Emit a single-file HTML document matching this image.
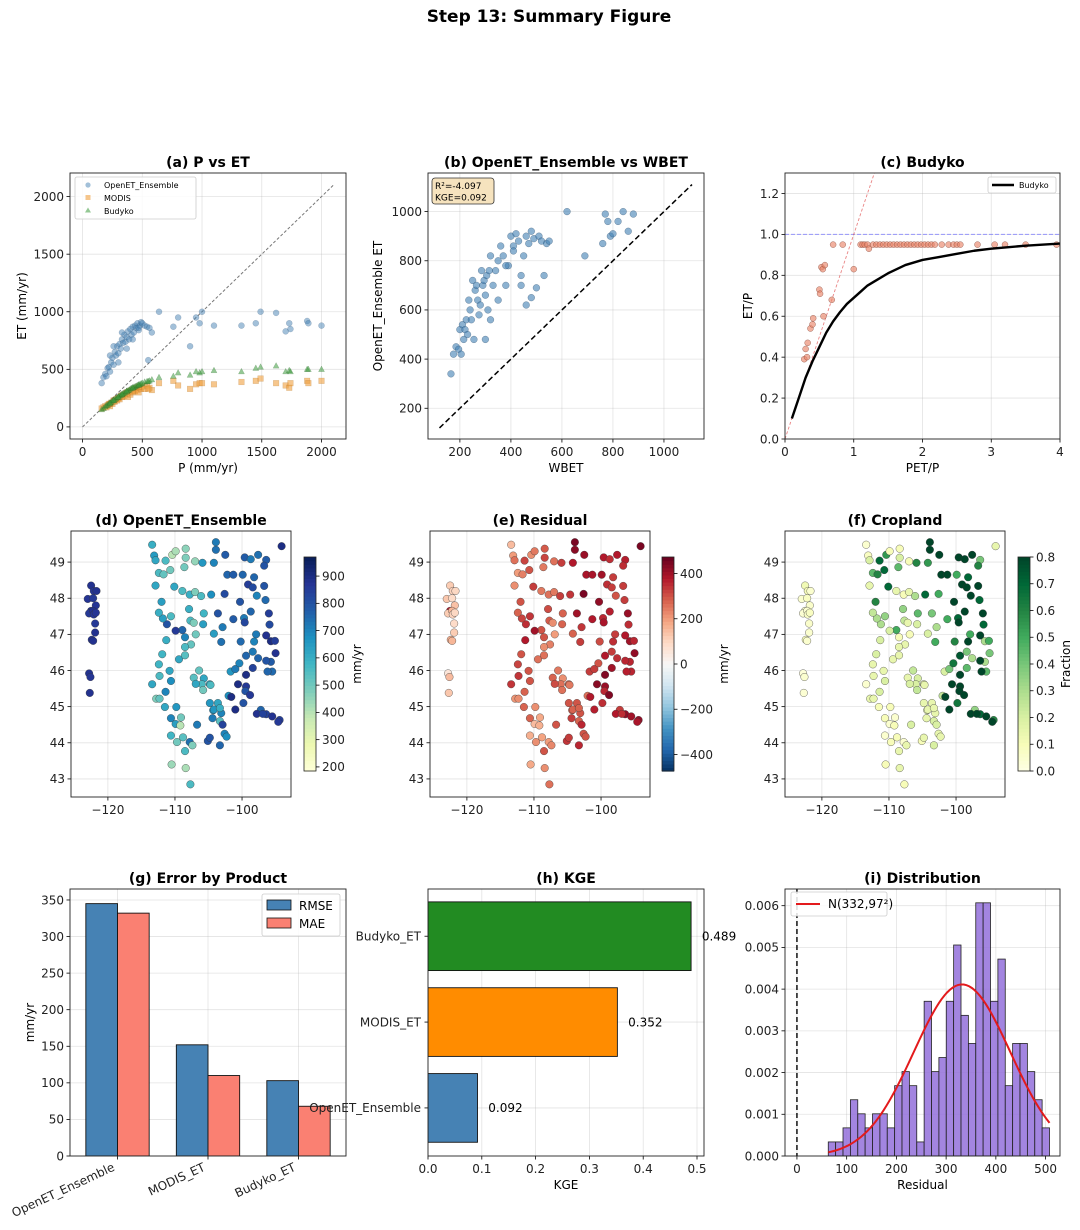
<!DOCTYPE html>
<html><head><meta charset="utf-8"><title>Step 13: Summary Figure</title>
<style>
html,body{margin:0;padding:0;background:#fff;}
svg{display:block;font-family:"DejaVu Sans","Liberation Sans",sans-serif;}
</style></head>
<body>
<svg id="fig" width="1080" height="1230" viewBox="0 0 1080 1230" xmlns="http://www.w3.org/2000/svg">
<rect x="0" y="0" width="1080" height="1230" fill="#fff"/>
<text x="549" y="22" text-anchor="middle" font-size="17" font-weight="bold" fill="#000">Step 13: Summary Figure</text>
</svg>
<script>
// ---------- Panel (a) data ----------
const aP = [160,175,190,200,210,220,230,240,250,260,270,280,290,300,310,320,330,340,350,360,370,380,390,400,410,420,430,440,450,460,470,480,490,500,520,540,560,580,230,260,300,330,370,420,470,550,640,760,800,900,950,980,1000,1100,1330,1450,1490,1620,1700,1730,1740,1880,1890,2000];
const aOpen = [380,430,460,440,510,520,480,560,600,540,650,620,700,640,720,680,760,730,800,740,780,830,760,850,800,870,820,880,860,900,840,880,910,900,880,870,860,820,620,700,560,820,680,760,860,580,1000,870,950,700,950,900,1000,880,880,900,1000,990,830,900,850,920,900,880];
const aModis = [160,170,180,170,190,200,180,210,200,230,220,240,230,250,240,270,260,280,270,290,300,260,310,280,320,300,330,310,340,320,300,340,330,350,330,360,340,320,200,220,250,260,290,310,350,330,380,400,360,330,370,380,380,370,390,400,420,380,360,340,380,400,380,400];
const aBudyko = [150,160,175,185,190,200,210,215,225,230,240,245,255,260,270,275,280,290,295,300,310,315,320,330,335,340,345,350,355,360,365,370,375,380,390,395,400,410,205,230,260,285,310,340,365,395,430,440,470,450,480,470,480,490,480,510,520,530,480,490,480,500,500,500];
// ---------- Panel (b) data ----------
const bWBET = [165,175,185,195,200,205,210,215,220,225,230,235,240,245,250,255,260,265,270,275,280,285,290,295,300,305,310,315,320,330,340,350,360,370,380,390,400,410,420,430,440,450,460,470,480,490,500,510,520,530,540,550,300,320,350,380,410,440,460,480,620,690,760,770,780,790,800,820,840,860,880];
const bOpen = [340,420,450,440,520,420,540,480,520,560,500,640,600,560,720,480,680,700,640,580,620,760,700,720,660,740,600,760,820,700,760,800,860,820,700,780,900,860,910,880,700,820,900,870,920,890,690,900,880,740,870,880,480,560,640,780,840,740,620,650,1000,820,870,990,960,900,910,960,1000,920,990];
const bStats = ["R\u00b2=-4.097","KGE=0.092"];
// ---------- Panel (c) data ----------
const cPETP = [0.28,0.3,0.32,0.33,0.37,0.4,0.41,0.5,0.51,0.53,0.55,0.56,0.58,0.68,0.7,0.84,1.0,1.1,1.13,1.16,1.2,1.22,1.28,1.33,1.38,1.43,1.48,1.53,1.58,1.63,1.68,1.73,1.78,1.83,1.88,1.93,1.98,2.03,2.08,2.13,2.18,2.28,2.38,2.45,2.5,2.55,2.8,3.05,3.2,3.5,3.95];
const cETP = [0.39,0.44,0.40,0.47,0.54,0.56,0.59,0.73,0.71,0.84,0.83,0.60,0.85,0.68,0.95,0.95,0.83,0.95,0.95,0.95,0.95,0.93,0.95,0.95,0.95,0.95,0.95,0.95,0.95,0.95,0.95,0.95,0.95,0.95,0.95,0.95,0.95,0.95,0.95,0.95,0.95,0.95,0.95,0.95,0.95,0.95,0.95,0.95,0.95,0.95,0.95];
const budykoX = [0.1,0.15,0.2,0.25,0.3,0.4,0.5,0.6,0.7,0.8,0.9,1.0,1.1,1.2,1.3,1.5,1.75,2.0,2.25,2.5,2.75,3.0,3.5,4.0];
const budykoY = [0.1,0.15,0.2,0.25,0.3,0.38,0.45,0.52,0.575,0.62,0.66,0.69,0.72,0.75,0.77,0.81,0.85,0.875,0.89,0.905,0.92,0.93,0.945,0.955];
// ---------- Station map data (d,e,f) ----------
const stLon = [-123.0,-122.5,-122.1,-121.7,-122.2,-121.8,-122.5,-122.8,-122.2,-122.1,-121.9,-121.9,-122.4,-122.2,-122.8,-122.6,-122.7,-121.8,
-113.4,-113.1,-112.9,-112.4,-112.9,-111.7,-111.4,-110.7,-110.4,-109.9,-108.4,-108.4,-108.6,-110.1,-108.9,-107.8,-107.0,-106.1,-107.0,-105.9,-104.6,-104.2,-103.9,-103.9,-102.5,-102.6,-102.2,-101.3,-99.9,-99.6,-98.7,-97.6,-96.4,-96.7,-94.1,-98.2,-99.1,-98.4,-96.7,-97.8,-96.5,-100.3,-99.7,-98.7,-99.6,-101.3,-103.6,-102.9,-96.0,-95.9,-97.9,-96.4,-95.7,-95.1,-98.2,-100.2,-103.1,-104.2,-105.8,-105.7,-107.9,-107.7,-107.2,-108.9,-109.9,-108.5,-106.9,-107.6,-108.5,-111.2,-111.3,-110.6,-111.8,-112.4,-112.0,-111.9,-112.4,-110.8,-112.3,-113.4,-112.8,-112.3,-111.4,-111.5,-110.6,-110.6,-109.8,-109.9,-109.1,-109.2,-110.6,-108.8,-107.8,-107.4,-109.7,-108.5,-110.5,-108.4,-107.7,-109.4,-108.5,-106.4,-105.7,-104.8,-104.7,-106.0,-107.2,-106.9,-105.8,-104.8,-104.3,-103.3,-103.1,-104.2,-103.6,-102.0,-103.3,-102.9,-104.4,-106.7,-105.1,-104.8,-103.3,-102.6,-102.3,-101.7,-101.0,-100.4,-99.4,-98.4,-97.6,-95.7,-95.5,-96.2,-96.4,-95.0,-98.4,-99.4,-99.4,-100.6,-99.5,-98.8,-99.8,-97.2,-96.4,-95.5,-94.4,-94.6,-97.8,-96.9,-101.0,-101.6];
const stLat = [47.98,48.35,48.2,48.2,48.0,47.8,47.65,47.58,47.65,47.55,47.3,47.05,46.85,46.82,45.92,45.82,45.38,47.6,
49.48,49.18,49.05,48.7,48.35,48.66,49.04,48.78,49.2,49.3,49.37,49.12,48.86,48.32,48.2,48.1,48.17,48.06,49.02,48.98,48.1,48.98,49.34,49.55,49.2,48.12,48.65,48.65,48.65,49.13,49.08,49.2,49.06,48.9,49.44,48.58,48.38,48.3,48.34,48.07,47.95,47.9,47.45,47.63,47.33,47.42,47.58,47.2,47.58,47.27,47.0,46.97,46.81,46.82,46.8,46.8,46.79,47.02,47.28,47.58,47.7,47.38,47.32,47.12,47.1,46.92,47.0,46.72,46.65,47.28,46.84,47.5,47.44,47.6,47.9,46.45,46.17,45.99,45.85,45.62,45.22,45.22,45.41,44.99,45.71,44.68,44.99,44.52,44.7,44.48,44.2,44.15,44.02,43.93,44.02,43.77,43.4,43.3,42.85,46.31,46.42,46.0,45.78,45.62,45.6,45.62,45.8,45.63,45.46,45.1,44.9,44.6,44.82,44.92,45.1,45.3,44.96,44.5,44.68,44.5,44.05,44.14,43.93,44.25,44.17,45.97,46.04,46.2,46.41,46.52,46.34,46.24,45.97,45.97,46.27,46.48,46.07,45.88,45.56,45.62,45.43,45.32,45.1,44.91,44.79,44.73,44.63,44.58,44.8,44.8,44.92,45.27,45.1,45.42,46.8,46.94];
const stET = [870,880,870,880,860,870,880,860,880,870,860,880,870,880,880,870,880,870,
600,650,620,560,620,520,560,500,400,420,460,480,500,620,560,600,480,560,450,660,680,700,740,720,780,820,760,780,760,780,720,740,780,800,900,760,850,820,800,700,750,800,720,760,830,780,800,720,850,820,720,880,900,850,700,750,740,640,640,580,600,560,480,760,860,700,500,520,560,800,600,560,640,600,640,580,580,620,560,620,480,520,700,620,680,700,660,640,500,400,580,540,740,480,500,560,440,420,560,620,540,520,620,620,560,560,540,620,500,660,660,540,700,660,620,680,600,840,720,720,800,800,760,700,680,660,720,700,760,720,760,780,750,760,800,880,840,900,860,900,800,860,800,760,840,880,850,860,880,840,900,900,780,820,780,740];
const stRes = [130,120,110,100,90,140,380,120,160,110,90,120,170,160,60,150,130,100,
150,200,260,200,220,240,320,300,220,250,290,320,250,330,250,260,250,330,260,330,340,380,430,450,410,450,390,390,400,380,350,380,370,350,450,330,350,330,330,300,330,420,360,370,390,380,400,340,410,350,330,380,400,360,350,310,330,280,280,280,310,290,220,300,400,300,200,240,220,350,380,340,320,280,300,300,320,300,340,340,210,220,280,280,300,280,220,150,180,170,170,190,200,230,220,300,180,220,260,260,260,250,220,280,250,260,280,310,260,300,290,280,300,280,300,260,280,360,330,300,340,330,360,300,300,330,330,300,380,330,350,360,360,370,360,420,400,440,410,430,360,440,350,330,420,400,420,390,380,350,370,380,380,360,340,330];
const stCrop = [0.05,0.12,0.1,0.05,0.08,0.06,0.05,0.04,0.05,0.07,0.06,0.05,0.1,0.05,0.03,0.05,0.04,0.08,
0.05,0.08,0.2,0.45,0.15,0.6,0.7,0.7,0.55,0.1,0.1,0.2,0.45,0.7,0.15,0.1,0.15,0.3,0.1,0.6,0.7,0.55,0.8,0.8,0.8,0.5,0.8,0.8,0.5,0.8,0.8,0.8,0.4,0.6,0.15,0.7,0.8,0.8,0.8,0.8,0.7,0.8,0.7,0.8,0.8,0.5,0.4,0.3,0.8,0.7,0.5,0.8,0.3,0.5,0.8,0.6,0.5,0.2,0.2,0.45,0.35,0.25,0.15,0.5,0.2,0.1,0.1,0.15,0.15,0.3,0.2,0.35,0.3,0.25,0.6,0.2,0.15,0.15,0.15,0.05,0.15,0.15,0.2,0.1,0.2,0.1,0.1,0.05,0.05,0.1,0.05,0.1,0.05,0.15,0.1,0.15,0.1,0.15,0.1,0.15,0.15,0.25,0.2,0.15,0.15,0.2,0.15,0.2,0.25,0.15,0.15,0.2,0.15,0.15,0.15,0.25,0.15,0.2,0.15,0.2,0.1,0.15,0.2,0.15,0.15,0.2,0.4,0.65,0.75,0.4,0.3,0.3,0.45,0.8,0.8,0.4,0.45,0.8,0.8,0.8,0.8,0.8,0.65,0.35,0.7,0.8,0.6,0.8,0.8,0.8,0.8,0.8,0.6,0.8,0.5,0.4];
// ---------- Panel (g) data ----------
const gProducts = ["OpenET_Ensemble","MODIS_ET","Budyko_ET"];
const gRMSE = [345,152,103];
const gMAE = [332,110,68];
// ---------- Panel (h) data ----------
const hProducts = ["OpenET_Ensemble","MODIS_ET","Budyko_ET"];
const hKGE = [0.092,0.352,0.489];
const hColors = ["#4682b4","#ff8c00","#228b22"];
// ---------- Panel (i) data ----------
const iCounts = [1,1,2,4,3,2,3,3,2,5,6,5,1,11,6,7,11,15,10,8,18,18,11,14,5,8,8,6,4,2];
const iBinStart = [63];
const iBinWidth = [14.83];
const iFit = [332,97];

const NS='http://www.w3.org/2000/svg';
const svg=document.getElementById('fig');
function el(tag,attrs,parent,txt){const e=document.createElementNS(NS,tag);for(const k in attrs)e.setAttribute(k,attrs[k]);if(txt!==undefined)e.textContent=txt;(parent||svg).appendChild(e);return e;}
let clipN=0;
function makeAxes(name,x0,y0,x1,y1,xl,yl){
  const g=el('g',{});
  
  
  const sx=v=>x0+(v-xl[0])/(xl[1]-xl[0])*(x1-x0);
  const sy=v=>y1-(v-yl[0])/(yl[1]-yl[0])*(y1-y0);
  const id='clip'+(clipN++);
  const cp=el('clipPath',{id:id},g);el('rect',{x:x0,y:y0,width:x1-x0,height:y1-y0},cp);
  const grid=el('g',{},g);
  const plot=el('g',{'clip-path':'url(#'+id+')'},g);
  return {g,grid,plot,sx,sy,x0,y0,x1,y1};
}
function xticks(ax,vals,labels,opt){
  opt=opt||{};
  vals.forEach((v,i)=>{const x=ax.sx(v);
    if(!opt.nogrid)el('line',{x1:x,x2:x,y1:ax.y0,y2:ax.y1,stroke:'#b0b0b0','stroke-opacity':0.35,'stroke-width':0.8},ax.grid);
    el('line',{x1:x,x2:x,y1:ax.y1,y2:ax.y1+3.5,stroke:'#000','stroke-width':0.8},ax.g);
    const t=el('text',{x:x,y:ax.y1+17,'text-anchor':'middle','font-size':12,fill:'#222'},ax.g,labels[i]);
    
    
  });
}
function yticks(ax,vals,labels){
  vals.forEach((v,i)=>{const y=ax.sy(v);
    el('line',{x1:ax.x0,x2:ax.x1,y1:y,y2:y,stroke:'#b0b0b0','stroke-opacity':0.35,'stroke-width':0.8},ax.grid);
    el('line',{x1:ax.x0-3.5,x2:ax.x0,y1:y,y2:y,stroke:'#000','stroke-width':0.8},ax.g);
    const t=el('text',{x:ax.x0-6,y:y+4.3,'text-anchor':'end','font-size':12,fill:'#222'},ax.g,labels[i]);
    
    
  });
}
function frame(ax){el('rect',{x:ax.x0,y:ax.y0,width:ax.x1-ax.x0,height:ax.y1-ax.y0,fill:'none',stroke:'#222','stroke-width':0.9},ax.g);}
function title(ax,txt){const t=el('text',{x:(ax.x0+ax.x1)/2,y:ax.y0-6,'text-anchor':'middle','font-size':14,'font-weight':'bold',fill:'#000'},ax.g,txt);
  
  }
function xlabel(ax,txt,dy){const t=el('text',{x:(ax.x0+ax.x1)/2,y:ax.y1+(dy||33),'text-anchor':'middle','font-size':12,fill:'#000'},ax.g,txt);
  
  }
function ylabel(ax,txt,x){const cy=(ax.y0+ax.y1)/2;const t=el('text',{x:x,y:cy,'text-anchor':'middle','font-size':12,fill:'#000',transform:'rotate(-90 '+x+' '+cy+')'},ax.g,txt);
  
  }
function hex(h){return [parseInt(h.substr(1,2),16),parseInt(h.substr(3,2),16),parseInt(h.substr(5,2),16)];}
function cmap(stops){const c=stops.map(hex);return t=>{t=Math.max(0,Math.min(1,t));const p=t*(c.length-1);const i=Math.min(c.length-2,Math.floor(p));const f=p-i;
  return 'rgb('+[0,1,2].map(k=>Math.round(c[i][k]+(c[i+1][k]-c[i][k])*f)).join(',')+')';};}
const YlGnBu=cmap(['#ffffd9','#edf8b1','#c7e9b4','#7fcdbb','#41b6c4','#1d91c0','#225ea8','#253494','#081d58']);
const RdBu_r=cmap(['#053061','#2166ac','#4393c3','#92c5de','#d1e5f0','#f7f7f7','#fddbc7','#f4a582','#d6604d','#b2182b','#67001f']);
const YlGn=cmap(['#ffffe5','#f7fcb9','#d9f0a3','#addd8e','#78c679','#41ab5d','#238443','#006837','#004529']);

// ================= (a) P vs ET =================
(function(){
  const ax=makeAxes('panel-a-p-vs-et',70,173,346,439,[-105,2205],[-105,2205]);
  xticks(ax,[0,500,1000,1500,2000],['0','500','1000','1500','2000']);
  yticks(ax,[0,500,1000,1500,2000],['0','500','1000','1500','2000']);
  el('line',{x1:ax.sx(0),y1:ax.sy(0),x2:ax.sx(2100),y2:ax.sy(2100),stroke:'#777','stroke-width':1,'stroke-dasharray':'3,2'},ax.plot);
  aP.forEach((p,i)=>{const c=el('circle',{cx:ax.sx(p),cy:ax.sy(aOpen[i]),r:3,fill:'#4682b4','fill-opacity':0.5,stroke:'#2a4a6a','stroke-opacity':0.3,'stroke-width':0.5},ax.plot);
    
    });
  aP.forEach((p,i)=>{const x=ax.sx(p),y=ax.sy(aModis[i]);const r=el('rect',{x:x-2.8,y:y-2.8,width:5.6,height:5.6,fill:'#f0a040','fill-opacity':0.6,stroke:'#a06010','stroke-opacity':0.3,'stroke-width':0.5},ax.plot);
    
    });
  aP.forEach((p,i)=>{const x=ax.sx(p),y=ax.sy(aBudyko[i]);const t=el('polygon',{points:(x)+','+(y-3.3)+' '+(x-3)+','+(y+2.3)+' '+(x+3)+','+(y+2.3),fill:'#3d9a3d','fill-opacity':0.55,stroke:'#1e5a1e','stroke-opacity':0.3,'stroke-width':0.5},ax.plot);
    
    });
  frame(ax);title(ax,'(a) P vs ET');xlabel(ax,'P (mm/yr)');ylabel(ax,'ET (mm/yr)',26);
  const lg=el('g',{},ax.g);
  
  
  el('rect',{x:75,y:177,width:121,height:42,rx:2,fill:'#fff','fill-opacity':0.85,stroke:'#ccc','stroke-width':0.8},lg);
  el('circle',{cx:88,cy:185,r:2.6,fill:'#4682b4','fill-opacity':0.5},lg);
  el('rect',{x:85.5,y:195,width:5,height:5,fill:'#f0a040','fill-opacity':0.6},lg);
  el('polygon',{points:'88,207.5 85,212.5 91,212.5',fill:'#3d9a3d','fill-opacity':0.55},lg);
  el('text',{x:104,y:188,'font-size':8,fill:'#000'},lg,'OpenET_Ensemble');
  el('text',{x:104,y:201,'font-size':8,fill:'#000'},lg,'MODIS');
  el('text',{x:104,y:214,'font-size':8,fill:'#000'},lg,'Budyko');
})();

// ================= (b) OpenET vs WBET =================
(function(){
  const ax=makeAxes('panel-b-openet-vs-wbet',428,173,704,439,[75,1157],[75,1157]);
  xticks(ax,[200,400,600,800,1000],['200','400','600','800','1000']);
  yticks(ax,[200,400,600,800,1000],['200','400','600','800','1000']);
  bWBET.forEach((w,i)=>{if(bOpen[i]===undefined)return;const c=el('circle',{cx:ax.sx(w),cy:ax.sy(bOpen[i]),r:3.4,fill:'#4682b4','fill-opacity':0.62,stroke:'#1f3f5f','stroke-opacity':0.5,'stroke-width':0.5},ax.plot);
    
    });
  el('line',{x1:ax.sx(120),y1:ax.sy(120),x2:ax.sx(1110),y2:ax.sy(1110),stroke:'#000','stroke-width':1.5,'stroke-dasharray':'5.5,3'},ax.plot);
  frame(ax);title(ax,'(b) OpenET_Ensemble vs WBET');xlabel(ax,'WBET');ylabel(ax,'OpenET_Ensemble ET',382);
  const sb=el('g',{},ax.g);
  
  
  el('rect',{x:432,y:178,width:62,height:26,rx:3,fill:'#f5deb3','fill-opacity':0.85,stroke:'#333','stroke-width':0.8},sb);
  bStats.forEach((s,i)=>el('text',{x:435,y:189+i*11.5,'font-size':9,fill:'#000'},sb,s));
})();

// ================= (c) Budyko =================
(function(){
  const ax=makeAxes('panel-c-budyko',785,173,1060,439,[0,4],[0,1.3]);
  xticks(ax,[0,1,2,3,4],['0','1','2','3','4']);
  yticks(ax,[0,0.2,0.4,0.6,0.8,1.0,1.2],['0.0','0.2','0.4','0.6','0.8','1.0','1.2']);
  el('line',{x1:ax.sx(0),y1:ax.sy(1),x2:ax.sx(4),y2:ax.sy(1),stroke:'#7070ff','stroke-opacity':0.7,'stroke-width':1,'stroke-dasharray':'4,2'},ax.plot);
  el('line',{x1:ax.sx(0),y1:ax.sy(0),x2:ax.sx(1.3),y2:ax.sy(1.3),stroke:'#e05050','stroke-opacity':0.7,'stroke-width':0.9,'stroke-dasharray':'3,2'},ax.plot);
  cPETP.forEach((x,i)=>{const c=el('circle',{cx:ax.sx(x),cy:ax.sy(cETP[i]),r:3,fill:'#e9866a','fill-opacity':0.65,stroke:'#6a2a1a','stroke-opacity':0.6,'stroke-width':0.5},ax.plot);
    
    });
  const pts=budykoX.map((x,i)=>ax.sx(x)+','+ax.sy(budykoY[i])).join(' ');
  const bl=el('polyline',{points:pts,fill:'none',stroke:'#000','stroke-width':2.4,'stroke-linejoin':'round'},ax.plot);
  
  
  frame(ax);title(ax,'(c) Budyko');xlabel(ax,'PET/P');ylabel(ax,'ET/P',752);
  const lg=el('g',{},ax.g);
  
  
  el('rect',{x:988,y:177,width:68,height:16,rx:2,fill:'#fff','fill-opacity':0.85,stroke:'#ccc','stroke-width':0.8},lg);
  el('line',{x1:992,x2:1014,y1:185,y2:185,stroke:'#000','stroke-width':2.4},lg);
  el('text',{x:1019,y:188,'font-size':8,fill:'#000'},lg,'Budyko');
})();

// ================= Maps (d,e,f) =================
function mapPanel(name,x0,x1,ttl,vals,cm,vmin,vmax,cbx,cticks,clabels,clabel,clx){
  const ax=makeAxes(name,x0,531,x1,797,[-125.5,-92.7],[42.5,49.86]);
  xticks(ax,[-120,-110,-100],['\u2212120','\u2212110','\u2212100']);
  yticks(ax,[43,44,45,46,47,48,49],['43','44','45','46','47','48','49']);
  stLon.forEach((lo,i)=>{const c=el('circle',{cx:ax.sx(lo),cy:ax.sy(stLat[i]),r:3.8,fill:cm((vals[i]-vmin)/(vmax-vmin)),stroke:'#333','stroke-opacity':0.7,'stroke-width':0.5},ax.plot);
    
    });
  frame(ax);title(ax,ttl);
  const cb=el('g',{});
  
  
  const y0=557,y1=771,w=12,n=60;
  for(let k=0;k<n;k++){el('rect',{x:cbx,y:y1-(k+1)*(y1-y0)/n,width:w,height:(y1-y0)/n+0.6,fill:cm((k+0.5)/n)},cb);}
  el('rect',{x:cbx,y:y0,width:w,height:y1-y0,fill:'none',stroke:'#222','stroke-width':0.8},cb);
  cticks.forEach((v,i)=>{const y=y1-(v-vmin)/(vmax-vmin)*(y1-y0);
    el('line',{x1:cbx+w,x2:cbx+w+3.5,y1:y,y2:y,stroke:'#000','stroke-width':0.8},cb);
    el('text',{x:cbx+w+6,y:y+4.3,'font-size':12,fill:'#222'},cb,clabels[i]);});
  const cy=(y0+y1)/2;
  el('text',{x:clx,y:cy,'text-anchor':'middle','font-size':12,fill:'#000',transform:'rotate(-90 '+clx+' '+cy+')'},cb,clabel);
}
mapPanel('panel-d-openet-map',71,291,'(d) OpenET_Ensemble',stET,YlGnBu,185,970,304,[200,300,400,500,600,700,800,900],['200','300','400','500','600','700','800','900'],'mm/yr',361);
mapPanel('panel-e-residual-map',430,650,'(e) Residual',stRes,RdBu_r,-473,473,662,[-400,-200,0,200,400],['\u2212400','\u2212200','0','200','400'],'mm/yr',728);
mapPanel('panel-f-cropland-map',785,1005,'(f) Cropland',stCrop,YlGn,0,0.8,1018,[0,0.1,0.2,0.3,0.4,0.5,0.6,0.7,0.8],['0.0','0.1','0.2','0.3','0.4','0.5','0.6','0.7','0.8'],'Fraction',1070);

// ================= (g) Error by product =================
(function(){
  const ax=makeAxes('panel-g-error-by-product',70,889,346,1156,[-0.525,2.525],[0,365]);
  yticks(ax,[0,50,100,150,200,250,300,350],['0','50','100','150','200','250','300','350']);
  gProducts.forEach((p,i)=>{const x=ax.sx(i);
    el('line',{x1:x,x2:x,y1:ax.y0,y2:ax.y1,stroke:'#b0b0b0','stroke-opacity':0.35,'stroke-width':0.8},ax.grid);
    el('line',{x1:x,x2:x,y1:ax.y1,y2:ax.y1+3.5,stroke:'#000','stroke-width':0.8},ax.g);
    const t=el('text',{x:x-2,y:ax.y1+14,'text-anchor':'end','font-size':12,fill:'#222',transform:'rotate(-25 '+(x-2)+' '+(ax.y1+14)+')'},ax.g,p);
    
    });
  const bw=0.35;
  gProducts.forEach((p,i)=>{
    const r1=el('rect',{x:ax.sx(i-bw),y:ax.sy(gRMSE[i]),width:ax.sx(i)-ax.sx(i-bw),height:ax.sy(0)-ax.sy(gRMSE[i]),fill:'#4682b4',stroke:'#111','stroke-width':0.9},ax.plot);
    
    
    const r2=el('rect',{x:ax.sx(i),y:ax.sy(gMAE[i]),width:ax.sx(i+bw)-ax.sx(i),height:ax.sy(0)-ax.sy(gMAE[i]),fill:'#fa8072',stroke:'#111','stroke-width':0.9},ax.plot);
    
    
  });
  frame(ax);title(ax,'(g) Error by Product');ylabel(ax,'mm/yr',34);
  const lg=el('g',{},ax.g);
  
  
  el('rect',{x:262,y:894,width:78,height:42,rx:2,fill:'#fff','fill-opacity':0.85,stroke:'#ccc','stroke-width':0.8},lg);
  el('rect',{x:267,y:900,width:24,height:10,fill:'#4682b4',stroke:'#111','stroke-width':0.8},lg);
  el('rect',{x:267,y:918,width:24,height:10,fill:'#fa8072',stroke:'#111','stroke-width':0.8},lg);
  el('text',{x:299,y:910,'font-size':12,fill:'#000'},lg,'RMSE');
  el('text',{x:299,y:928,'font-size':12,fill:'#000'},lg,'MAE');
})();

// ================= (h) KGE =================
(function(){
  const ax=makeAxes('panel-h-kge',428,889,704,1156,[0,0.513],[-0.56,2.55]);
  xticks(ax,[0,0.1,0.2,0.3,0.4,0.5],['0.0','0.1','0.2','0.3','0.4','0.5']);
  hProducts.forEach((p,i)=>{const y=ax.sy(i);
    el('line',{x1:ax.x0,x2:ax.x1,y1:y,y2:y,stroke:'#b0b0b0','stroke-opacity':0.35,'stroke-width':0.8},ax.grid);
    el('line',{x1:ax.x0-3.5,x2:ax.x0,y1:y,y2:y,stroke:'#000','stroke-width':0.8},ax.g);
    const t=el('text',{x:ax.x0-7,y:y+4.3,'text-anchor':'end','font-size':12,fill:'#222'},svg,p);
    
    
    const b=el('rect',{x:ax.sx(0),y:ax.sy(i+0.4),width:ax.sx(hKGE[i])-ax.sx(0),height:ax.sy(i-0.4)-ax.sy(i+0.4),fill:hColors[i],stroke:'#111','stroke-width':0.9},ax.plot);
    
    
    const v=el('text',{x:ax.sx(hKGE[i]+0.02),y:y+4.3,'font-size':12,fill:'#000'},svg,hKGE[i].toFixed(3));
    
    
  });
  frame(ax);title(ax,'(h) KGE');xlabel(ax,'KGE');
})();

// ================= (i) Distribution =================
(function(){
  const ax=makeAxes('panel-i-distribution',785,889,1060,1156,[-24,529],[0,0.0064]);
  xticks(ax,[0,100,200,300,400,500],['0','100','200','300','400','500']);
  yticks(ax,[0,0.001,0.002,0.003,0.004,0.005,0.006],['0.000','0.001','0.002','0.003','0.004','0.005','0.006']);
  const N=iCounts.reduce((a,b)=>a+b,0);const w=iBinWidth[0];
  iCounts.forEach((c,k)=>{const d=c/(N*w);const x0=iBinStart[0]+k*w;
    const r=el('rect',{x:ax.sx(x0),y:ax.sy(d),width:ax.sx(x0+w)-ax.sx(x0),height:ax.sy(0)-ax.sy(d),fill:'#9370db','fill-opacity':0.85,stroke:'#222','stroke-width':0.8},ax.plot);
    
    });
  const mu=iFit[0],sd=iFit[1];const pts=[];
  for(let k=0;k<=80;k++){const x=iBinStart[0]+k*(iCounts.length*w)/80;const y=Math.exp(-0.5*((x-mu)/sd)**2)/(sd*Math.sqrt(2*Math.PI));pts.push(ax.sx(x)+','+ax.sy(y));}
  const fl=el('polyline',{points:pts.join(' '),fill:'none',stroke:'#e31a1c','stroke-width':2},ax.plot);
  
  
  el('line',{x1:ax.sx(0),x2:ax.sx(0),y1:ax.y0,y2:ax.y1,stroke:'#000','stroke-width':1.4,'stroke-dasharray':'5,3'},ax.plot);
  frame(ax);title(ax,'(i) Distribution');xlabel(ax,'Residual');
  const lg=el('g',{},ax.g);
  
  
  el('rect',{x:791,y:892,width:96,height:24,rx:2,fill:'#fff','fill-opacity':0.85,stroke:'#ccc','stroke-width':0.8},lg);
  el('line',{x1:796,x2:820,y1:904,y2:904,stroke:'#e31a1c','stroke-width':2},lg);
  el('text',{x:828,y:908,'font-size':12,fill:'#000'},lg,'N(332,97\u00b2)');
})();
</script>
</body></html>
